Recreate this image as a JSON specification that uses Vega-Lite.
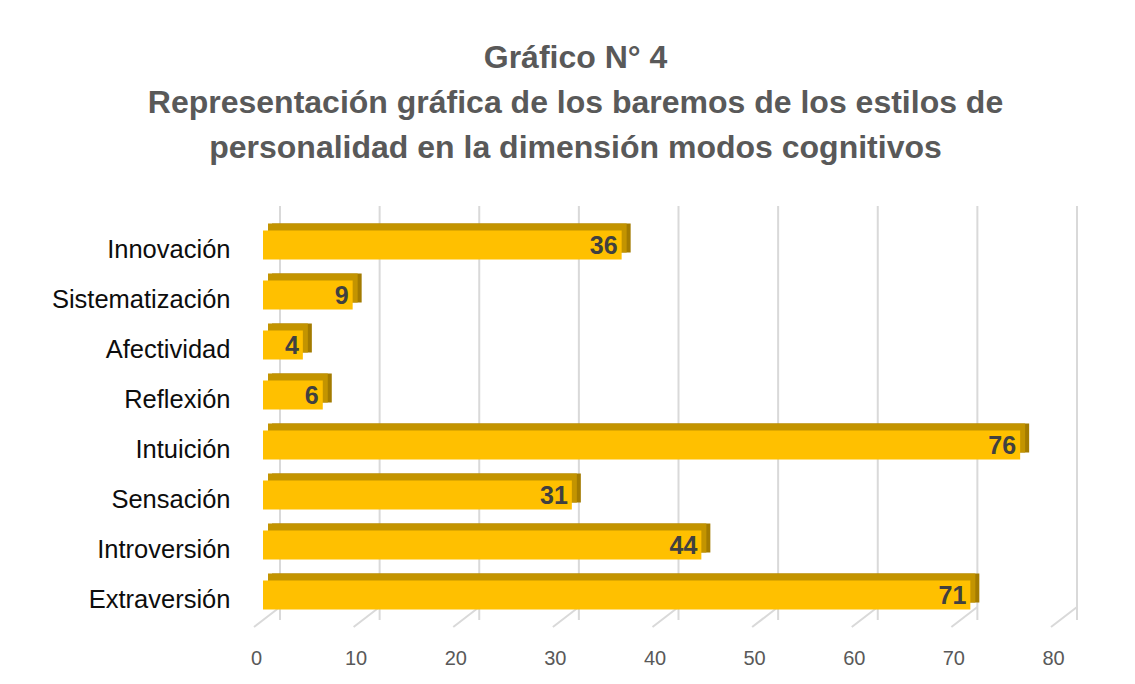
{
  "$schema": "https://vega.github.io/schema/vega-lite/v6.json",
  "width": 797,
  "height": 400,
  "autosize": {"type": "none"},
  "padding": {"left": 263, "top": 220, "right": 75, "bottom": 65},
  "background": "white",
  "config": {"view": {"stroke": null}, "font": "Liberation Sans"},
  "title": {
    "text": ["Gráfico N° 4", "Representación gráfica de los baremos de los estilos de", "personalidad en la dimensión modos cognitivos"],
    "fontSize": 32,
    "fontWeight": "bold",
    "color": "#595959",
    "lineHeight": 45,
    "anchor": "middle",
    "dx": -86,
    "offset": 40,
    "font": "Liberation Sans"
  },
  "datasets": {
    "bars": [
      {"categoria": "Innovación", "valor": 36},
      {"categoria": "Sistematización", "valor": 9},
      {"categoria": "Afectividad", "valor": 4},
      {"categoria": "Reflexión", "valor": 6},
      {"categoria": "Intuición", "valor": 76},
      {"categoria": "Sensación", "valor": 31},
      {"categoria": "Introversión", "valor": 44},
      {"categoria": "Extraversión", "valor": 71}
    ],
    "ticks": [{"t": 0}, {"t": 10}, {"t": 20}, {"t": 30}, {"t": 40}, {"t": 50}, {"t": 60}, {"t": 70}, {"t": 80}]
  },
  "layer": [
    {
      "data": {"name": "ticks"},
      "mark": {"type": "rule", "color": "#D9D9D9", "strokeWidth": 2, "xOffset": 17, "x2Offset": 17, "yOffset": -14, "y2Offset": -13},
      "encoding": {
        "x": {
          "field": "t", "type": "quantitative", "scale": {"domain": [0, 80], "nice": false},
          "axis": {"title": null, "domain": false, "ticks": false, "grid": false, "values": [0, 10, 20, 30, 40, 50, 60, 70, 80], "labelFontSize": 20, "labelColor": "#595959", "labelPadding": 28, "labelOffset": -7, "labelFlush": false, "labelFont": "Liberation Sans"}
        }
      }
    },
    {
      "data": {"name": "ticks"},
      "mark": {"type": "rule", "color": "#D9D9D9", "strokeWidth": 2, "xOffset": 17, "x2Offset": -9, "yOffset": -13, "y2Offset": 7},
      "encoding": {
        "x": {"field": "t", "type": "quantitative"},
        "x2": {"field": "t"},
        "y": {"value": {"expr": "height"}},
        "y2": {"value": {"expr": "height"}}
      }
    },
    {
      "data": {"name": "bars"},
      "mark": {"type": "bar", "color": "#A37B00", "xOffset": 9, "x2Offset": 9, "yOffset": -7, "y2Offset": -7},
      "encoding": {
        "y": {
          "field": "categoria", "type": "nominal", "sort": null, "scale": {"paddingInner": 0.42, "paddingOuter": 0.21},
          "axis": {"title": null, "domain": false, "ticks": false, "labelFontSize": 25.5, "labelColor": "#0d0d0d", "labelPadding": 33, "labelOffset": 5, "labelLimit": 300, "labelFont": "Liberation Sans"}
        },
        "x": {"field": "valor", "type": "quantitative"}
      }
    },
    {
      "data": {"name": "bars"},
      "mark": {"type": "bar", "color": "#C39400", "xOffset": 5, "x2Offset": 5, "yOffset": -7, "y2Offset": -7},
      "encoding": {
        "y": {"field": "categoria", "type": "nominal", "sort": null},
        "x": {"field": "valor", "type": "quantitative"}
      }
    },
    {
      "data": {"name": "bars"},
      "mark": {"type": "bar", "color": "#FFC000"},
      "encoding": {
        "y": {"field": "categoria", "type": "nominal", "sort": null},
        "x": {"field": "valor", "type": "quantitative"}
      }
    },
    {
      "data": {"name": "bars"},
      "mark": {"type": "text", "align": "right", "baseline": "middle", "dx": -4, "dy": 1, "fontSize": 25, "fontWeight": "bold", "color": "#404040", "font": "Liberation Sans"},
      "encoding": {
        "y": {"field": "categoria", "type": "nominal", "sort": null},
        "x": {"field": "valor", "type": "quantitative"},
        "text": {"field": "valor", "type": "quantitative"}
      }
    }
  ]
}
